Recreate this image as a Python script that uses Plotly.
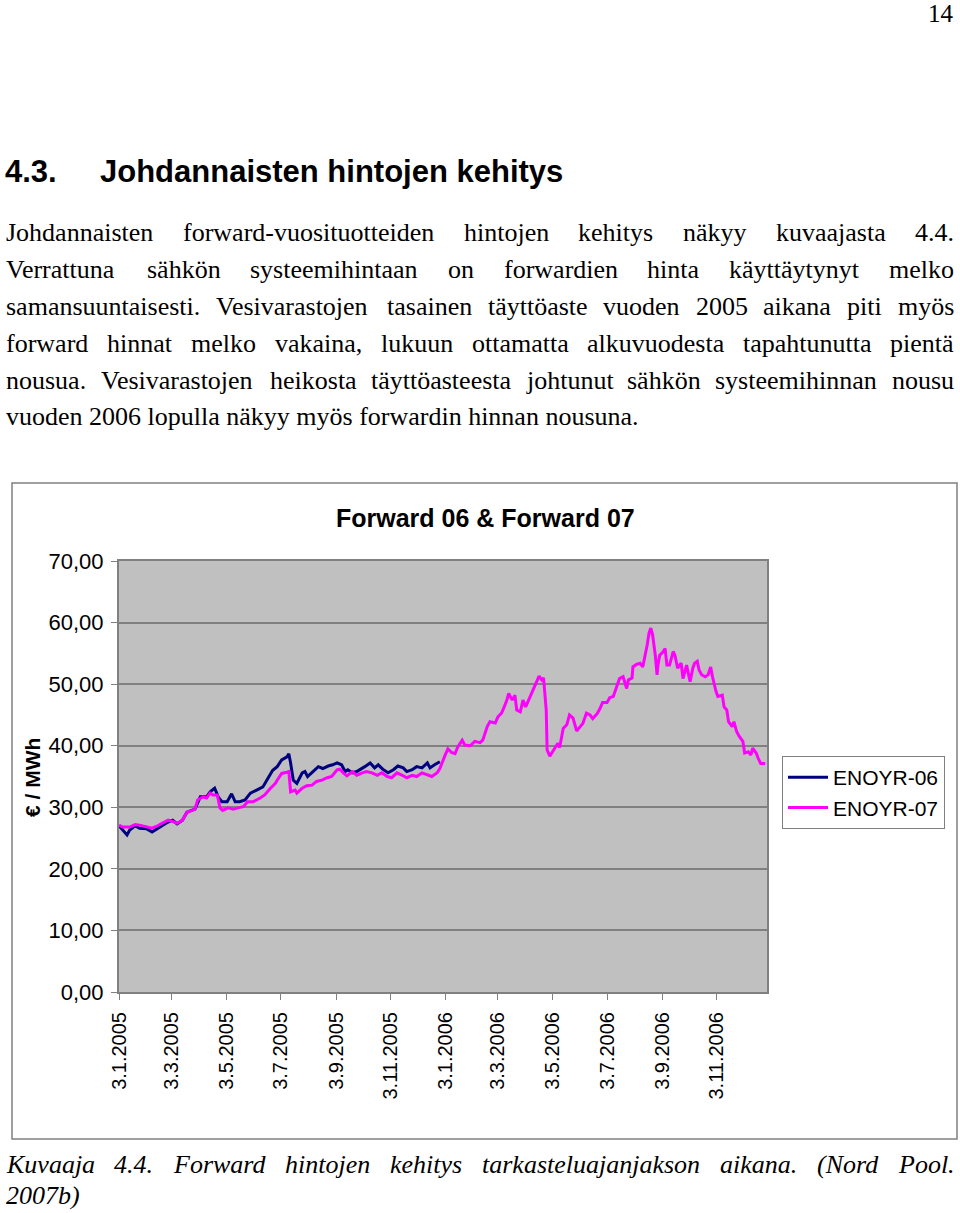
import pandas as pd
import plotly.graph_objects as go

# ---------------- data ----------------
days_06 = [0, 4, 9, 12, 18, 23, 31, 37, 43, 49, 55, 60, 65, 71, 76, 85, 91, 98, 102, 107,
           111, 115, 121, 126, 130, 135, 141, 147, 154, 161, 167, 172, 177, 182, 188, 190,
           192, 195, 199, 205, 208, 211, 217, 223, 228, 234, 239, 244, 249, 253, 256, 261,
           266, 270, 275, 281, 286, 290, 295, 301, 307, 312, 318, 322, 328, 333, 339, 345,
           348, 353, 359]
enoyr_06 = [27.0, 26.3, 25.5, 26.3, 27.0, 26.6, 26.5, 26.0, 26.6, 27.1, 27.6, 27.9, 27.3, 27.9,
            29.2, 29.7, 31.7, 31.7, 32.5, 33.1, 31.7, 30.9, 30.9, 32.2, 30.9, 30.9, 31.2, 32.3,
            32.8, 33.3, 34.8, 36.0, 36.6, 37.7, 38.2, 38.7, 37.2, 34.4, 33.9, 35.6, 35.8, 35.0,
            35.8, 36.6, 36.3, 36.7, 36.9, 37.2, 36.9, 35.8, 36.1, 35.6, 35.8, 36.1, 36.6, 37.2,
            36.4, 36.9, 36.2, 35.6, 36.1, 36.7, 36.4, 35.8, 36.1, 36.6, 36.4, 37.2, 36.4, 36.9,
            37.4]
days_07 = [0, 4, 12, 18, 23, 31, 37, 43, 49, 55, 60, 65, 71, 76, 82, 85, 88, 94, 98, 102,
           105, 110, 113, 116, 122, 128, 133, 139, 144, 150, 158, 163, 169, 175, 177, 182,
           188, 190, 192, 197, 199, 205, 210, 216, 221, 227, 233, 238, 244, 247, 251, 255,
           261, 266, 272, 277, 283, 289, 294, 300, 305, 311, 317, 322, 328, 333, 339, 345,
           350, 356, 359, 365, 368, 372, 376, 379, 384, 387, 393, 398, 404, 407, 412, 415,
           421, 424, 428, 431, 434, 436, 440, 443, 445, 449, 452, 455, 460, 463, 468, 470,
           473, 475, 478, 479, 482, 484, 488, 491, 493, 497, 501, 504, 508, 512, 516, 519,
           523, 527, 530, 535, 538, 541, 546, 549, 553, 557, 560, 564, 566, 568, 570, 574,
           575, 579, 583, 586, 591, 593, 595, 597, 600, 602, 603, 605, 609, 611, 613, 616,
           620, 622, 625, 629, 631, 635, 639, 642, 644, 647, 649, 652, 656, 659, 662, 664,
           668, 670, 675, 677, 680, 682, 686, 688, 691, 694, 698, 700, 704, 707, 709, 713,
           715, 718, 723]
enoyr_07 = [27.1, 26.8, 26.8, 27.2, 27.1, 26.8, 26.6, 27.0, 27.4, 27.9, 27.7, 27.4, 27.9, 29.2,
            29.5, 29.7, 31.2, 31.7, 31.5, 32.3, 32.0, 32.0, 29.9, 29.5, 29.9, 29.7, 29.9, 30.1,
            30.9, 30.9, 31.5, 32.0, 33.0, 33.9, 34.4, 35.5, 35.7, 35.8, 32.5, 32.8, 32.3, 33.1,
            33.5, 33.6, 34.2, 34.4, 34.8, 35.0, 36.1, 36.2, 35.6, 35.1, 35.8, 35.2, 35.6, 35.8,
            35.6, 35.2, 35.6, 35.0, 34.8, 35.6, 35.2, 34.8, 35.2, 35.0, 35.6, 35.2, 35.0, 35.6,
            36.3, 38.5, 39.5, 38.9, 38.7, 39.8, 40.9, 40.1, 40.0, 40.7, 40.5, 40.9, 43.1, 43.9,
            43.7, 44.7, 45.3, 46.3, 47.4, 48.5, 47.4, 48.2, 45.8, 45.5, 47.4, 46.3, 48.0, 48.8,
            50.5, 51.3, 50.7, 51.0, 45.8, 39.3, 38.3, 38.8, 39.6, 40.4, 39.7, 42.8, 43.4, 45.0,
            44.5, 42.4, 43.1, 43.6, 45.3, 45.0, 44.4, 45.2, 46.0, 47.0, 47.0, 47.8, 48.0, 49.6,
            50.9, 51.2, 50.1, 49.3, 50.7, 51.0, 52.8, 53.2, 53.4, 52.8, 56.4, 58.3, 59.1, 58.0,
            54.7, 51.5, 53.1, 54.7, 55.3, 55.8, 53.1, 53.1, 55.3, 54.7, 52.6, 53.4, 50.9, 53.1,
            50.4, 52.6, 53.4, 53.7, 52.3, 51.5, 51.2, 51.5, 52.8, 51.2, 48.8, 48.0, 48.2, 46.3,
            45.8, 43.9, 43.1, 43.9, 42.3, 41.5, 40.7, 38.8, 39.0, 38.5, 39.6, 38.8, 38.0, 37.1,
            37.1]

tick_dates = ["2005-01-03", "2005-03-03", "2005-05-03", "2005-07-03", "2005-09-03",
              "2005-11-03", "2006-01-03", "2006-03-03", "2006-05-03", "2006-07-03",
              "2006-09-03", "2006-11-03"]
tick_labels = ["3.1.2005", "3.3.2005", "3.5.2005", "3.7.2005", "3.9.2005", "3.11.2005",
               "3.1.2006", "3.3.2006", "3.5.2006", "3.7.2006", "3.9.2006", "3.11.2006"]
y_ticks = [0, 10, 20, 30, 40, 50, 60, 70]
y_tick_labels = ["0,00", "10,00", "20,00", "30,00", "40,00", "50,00", "60,00", "70,00"]

start = pd.Timestamp("2005-01-03")
dates_06 = start + pd.to_timedelta(days_06, unit="D")
dates_07 = start + pd.to_timedelta(days_07, unit="D")

# ---------------- page text ----------------
heading_num = "4.3."
heading = "Johdannaisten hintojen kehitys"
para_lines = [
    "Johdannaisten forward-vuosituotteiden hintojen kehitys näkyy kuvaajasta 4.4.",
    "Verrattuna sähkön systeemihintaan on forwardien hinta käyttäytynyt melko",
    "samansuuntaisesti. Vesivarastojen tasainen täyttöaste vuoden 2005 aikana piti myös",
    "forward hinnat melko vakaina, lukuun ottamatta alkuvuodesta tapahtunutta pientä",
    "nousua. Vesivarastojen heikosta täyttöasteesta johtunut sähkön systeemihinnan nousu",
]
para_last = "vuoden 2006 lopulla näkyy myös forwardin hinnan nousuna."
caption_line = "Kuvaaja 4.4. Forward hintojen kehitys tarkasteluajanjakson aikana. (Nord Pool."
caption_last = "2007b)"

W, H = 960, 1213
def px(x):
    return x / W
def py(y):
    return 1 - y / H

SERIF = "Liberation Serif, Times New Roman, serif"
SANS = "Liberation Sans, Arial, sans-serif"

# Times-compatible advance widths (1/1000 em), used to justify lines
UPRIGHT = dict(zip("abcdefghijklmnopqrstuvwxyzäö", [444, 500, 444, 500, 444, 333, 500, 500, 278,
               278, 500, 278, 778, 500, 500, 500, 500, 333, 389, 278, 500, 500, 722, 500, 500,
               444, 444, 500]))
UPRIGHT.update({"J": 389, "V": 722, "F": 556, "K": 722, "N": 722, "P": 556, ".": 250,
                ",": 250, "-": 333, "(": 333, ")": 333})
ITALIC = dict(zip("abcdefghijklmnopqrstuvwxyzäö", [500, 500, 444, 500, 444, 278, 500, 500, 278,
              278, 444, 278, 722, 500, 500, 500, 500, 389, 389, 278, 500, 444, 667, 444, 444,
              389, 500, 500]))
ITALIC.update({"J": 444, "V": 611, "F": 611, "K": 667, "N": 667, "P": 611, ".": 250,
               ",": 250, "-": 333, "(": 333, ")": 333})
for d in "0123456789":
    UPRIGHT[d] = 500
    ITALIC[d] = 500

def width(word, size, table):
    return sum(table.get(c, 500) for c in word) * size / 1000.0

fig = go.Figure()
fig.add_trace(go.Scatter(x=dates_06, y=enoyr_06, mode="lines", name="ENOYR-06",
                         line=dict(color="#000080", width=3)))
fig.add_trace(go.Scatter(x=dates_07, y=enoyr_07, mode="lines", name="ENOYR-07",
                         line=dict(color="#FF00FF", width=3)))

annotations = []
def add_text(text, x, y, size, family=SERIF, anchor="left", bold=False, italic=False, angle=0):
    t = text
    if bold:
        t = "<b>" + t + "</b>"
    if italic:
        t = "<i>" + t + "</i>"
    annotations.append(dict(text=t, x=px(x), y=py(y), xref="paper", yref="paper",
                            xanchor=anchor, yanchor="middle", showarrow=False,
                            textangle=angle, borderpad=0,
                            font=dict(family=family, size=size, color="black")))

def justified(line, y, size, italic=False, left=5, right=953):
    table = ITALIC if italic else UPRIGHT
    words = line.split(" ")
    ws = [width(w, size, table) for w in words]
    gap = (right - left - sum(ws)) / (len(words) - 1)
    x = left
    for w, wd in zip(words, ws):
        add_text(w, x, y, size, italic=italic)
        x += wd + gap

BODY = 26
add_text("14", 955, 14, 25, anchor="right")
add_text(heading_num, 4, 172, 31, family=SANS, bold=True)
add_text(heading, 99, 172, 31, family=SANS, bold=True)
for line, yy in zip(para_lines, [232, 269, 306, 343, 380]):
    justified(line, yy, BODY)
add_text(para_last, 5, 416, BODY)
justified(caption_line, 1164, BODY, italic=True)
add_text(caption_last, 5, 1195, BODY, italic=True)

add_text("Forward 06 & Forward 07", 485, 518, 25, family=SANS, anchor="center", bold=True)
add_text("€ / MWh", 32, 778, 21, family=SANS, anchor="center", bold=True, angle=-90)

shapes = [dict(type="rect", xref="paper", yref="paper",
               x0=px(12), x1=px(957), y0=py(1139), y1=py(483),
               line=dict(color="#808080", width=1.5), fillcolor="rgba(0,0,0,0)")]

fig.update_layout(
    width=W, height=H, margin=dict(l=0, r=0, t=0, b=0, pad=0, autoexpand=False),
    paper_bgcolor="white", plot_bgcolor="#C0C0C0",
    annotations=annotations, shapes=shapes,
    showlegend=True,
    legend=dict(x=px(782), y=py(756), xanchor="left", yanchor="top",
                bordercolor="#808080", borderwidth=1, bgcolor="white",
                font=dict(family=SANS, size=21, color="black"),
                itemwidth=40, tracegroupgap=0),
    xaxis=dict(domain=[px(119), px(767)], type="date",
               range=["2005-01-03", "2006-12-29"],
               tickmode="array", tickvals=tick_dates, ticktext=tick_labels,
               tickangle=-90, ticks="outside", ticklen=6, tickcolor="#808080",
               tickfont=dict(family=SANS, size=20, color="black"),
               ticklabelstandoff=4, automargin=False,
               showgrid=False, zeroline=False,
               showline=True, linecolor="#808080", linewidth=2, mirror=True),
    yaxis=dict(domain=[py(992), py(561)], range=[0, 70],
               tickmode="array", tickvals=y_ticks, ticktext=y_tick_labels,
               ticks="outside", ticklen=6, tickcolor="#808080",
               tickfont=dict(family=SANS, size=22, color="black"),
               ticklabelstandoff=3, automargin=False,
               showgrid=True, gridcolor="#808080", gridwidth=1.5, zeroline=False,
               showline=True, linecolor="#808080", linewidth=2, mirror=True),
)

fig.write_html("out.html")
